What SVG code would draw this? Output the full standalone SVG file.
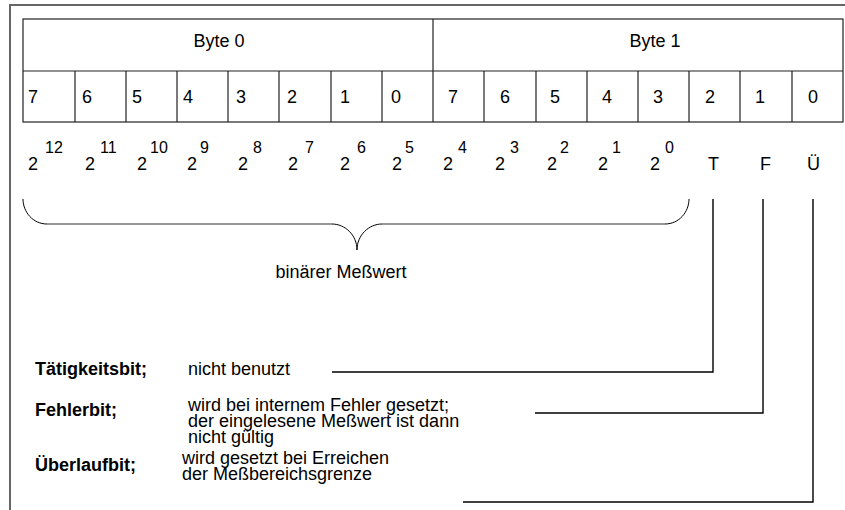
<svg xmlns="http://www.w3.org/2000/svg" width="845" height="510" viewBox="0 0 845 510">
<style>
text{font-family:"Liberation Sans",Arial,sans-serif;font-size:18px;fill:#000}
.b{font-weight:bold}
.sup{font-size:16px}
.tbl{fill:none;stroke:#222;stroke-width:1.2}
.frame{fill:none;stroke:#666;stroke-width:2}
.brh{fill:none;stroke:#777;stroke-width:1.6}
.brc{fill:none;stroke:#000;stroke-width:1}
.con{fill:none;stroke:#000;stroke-width:1.4}
</style>
<rect width="845" height="510" fill="#fff"/>
<path class="frame" d="M10,520 V5 H850"/>
<g id="table">
<rect class="tbl" x="23" y="19" width="820" height="103"/>
<line class="tbl" x1="23" y1="71" x2="843" y2="71"/>
<line class="tbl" x1="433" y1="19" x2="433" y2="122"/>
<path class="tbl" d="M75,71V122M126,71V122M177,71V122M228,71V122M279,71V122M331,71V122M382,71V122M484,71V122M536,71V122M587,71V122M638,71V122M689,71V122M740,71V122M792,71V122"/>
<text x="219" y="47" text-anchor="middle">Byte 0</text>
<text x="655" y="47" text-anchor="middle">Byte 1</text>
<text x="28" y="103">7</text><text x="82" y="103">6</text><text x="132" y="103">5</text><text x="183" y="103">4</text>
<text x="236" y="103">3</text><text x="287" y="103">2</text><text x="340" y="103">1</text><text x="391" y="103">0</text>
<text x="448" y="103">7</text><text x="500" y="103">6</text><text x="550" y="103">5</text><text x="602" y="103">4</text>
<text x="653" y="103">3</text><text x="705" y="103">2</text><text x="755" y="103">1</text><text x="808" y="103">0</text>
</g>
<g id="weights">
<text x="28" y="170">2</text><text class="sup" x="45" y="153">12</text>
<text x="85" y="170">2</text><text class="sup" x="100" y="153">11</text>
<text x="137" y="170">2</text><text class="sup" x="150" y="153">10</text>
<text x="187" y="170">2</text><text class="sup" x="200" y="153">9</text>
<text x="238" y="170">2</text><text class="sup" x="253" y="153">8</text>
<text x="288" y="170">2</text><text class="sup" x="305" y="153">7</text>
<text x="340" y="170">2</text><text class="sup" x="357" y="153">6</text>
<text x="392" y="170">2</text><text class="sup" x="405" y="153">5</text>
<text x="443" y="170">2</text><text class="sup" x="458" y="153">4</text>
<text x="495" y="170">2</text><text class="sup" x="510" y="153">3</text>
<text x="547" y="170">2</text><text class="sup" x="560" y="153">2</text>
<text x="598" y="170">2</text><text class="sup" x="612" y="153">1</text>
<text x="650" y="170">2</text><text class="sup" x="665" y="153">0</text>
<text x="708" y="170">T</text>
<text x="760" y="170">F</text>
<text x="807" y="170">Ü</text>
</g>
<g id="brace">
<path class="brh" d="M47,224H332M382,224H665"/>
<path class="brc" d="M23,199C23,212 33,224 47,224M332,224C345,224 357,235 357,250C357,235 369,224 382,224M665,224C679,224 689,212 689,199"/>
<text x="341" y="278" text-anchor="middle">binärer Meßwert</text>
</g>
<g id="connectors">
<path class="con" d="M332,372H713V199"/>
<path class="con" d="M535,413H763V199"/>
<path class="con" d="M463,502H813V199"/>
</g>
<g id="taetigkeitsbit">
<text class="b" x="35" y="375">Tätigkeitsbit;</text>
<text x="188" y="375">nicht benutzt</text>
</g>
<g id="fehlerbit">
<text class="b" x="35" y="416">Fehlerbit;</text>
<text x="188" y="411">wird bei internem Fehler gesetzt;</text>
<text x="188" y="427">der eingelesene Meßwert ist dann</text>
<text x="188" y="443">nicht gültig</text>
</g>
<g id="ueberlaufbit">
<text class="b" x="35" y="471">Überlaufbit;</text>
<text x="182" y="464">wird gesetzt bei Erreichen</text>
<text x="182" y="480">der Meßbereichsgrenze</text>
</g>
</svg>
